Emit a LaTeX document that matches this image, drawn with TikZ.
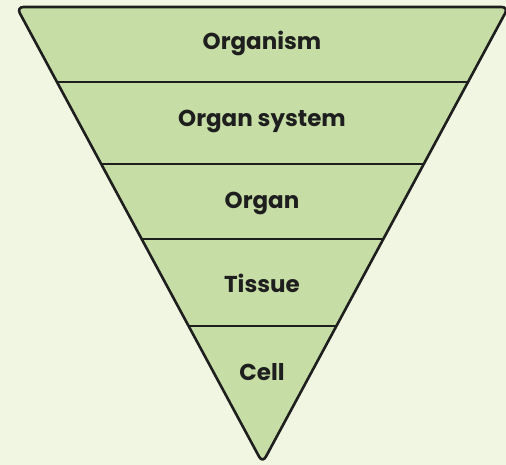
\documentclass[tikz,border=0pt]{standalone}
\usepackage{fontspec}
\setsansfont{Poppins}
\usepackage{xcolor}
\usepackage{tikz}
\usetikzlibrary{positioning,calc}
\definecolor{bgpale}{RGB}{240,246,226}
\definecolor{layergreen}{RGB}{198,222,165}
\definecolor{inkdark}{RGB}{30,30,30}

\begin{document}
\begin{tikzpicture}[x=1pt, y=-1pt,
        pyramid/.style={draw=inkdark, line width=2.6pt, fill=layergreen,
                        rounded corners=7pt, line join=round},
        divider/.style={draw=inkdark, line width=2pt},
        levellabel/.style={font=\sffamily\bfseries\fontsize{23}{26}\selectfont,
                           text=inkdark, inner sep=0pt}
    ]

    %% ── canvas ─────────────────────────────────────────────────────────────
    \fill[bgpale] (0,0) rectangle (506,465);
    \useasboundingbox (0,0) rectangle (506,465);

    %% ── inverted triangle ──────────────────────────────────────────────────
    \coordinate (tl)  at (16.5,7);
    \coordinate (tr)  at (508.5,7);
    \coordinate (tip) at (262.5,463);
    \path[pyramid] (tl) -- (tr) -- (tip) -- cycle;

    %% ── level dividers ─────────────────────────────────────────────────────
    \foreach \t/\n in {0.1645/a, 0.344/b, 0.509/c, 0.70/d} {
        \coordinate (l\n) at ($(tl)!\t!(tip)$);
        \coordinate (r\n) at ($(tr)!\t!(tip)$);
        \draw[divider] (l\n) -- (r\n);
    }

    %% ── labels ─────────────────────────────────────────────────────────────
    \node[levellabel] (organism) at (262,43)  {Organism};
    \node[levellabel] (system)   at (262,121) {Organ system};
    \node[levellabel] (organ)    at (262,203) {Organ};
    \node[levellabel] (tissue)   at (262,283) {Tissue};
    \node[levellabel] (cell)     at (262,372) {Cell};

\end{tikzpicture}
\end{document}
